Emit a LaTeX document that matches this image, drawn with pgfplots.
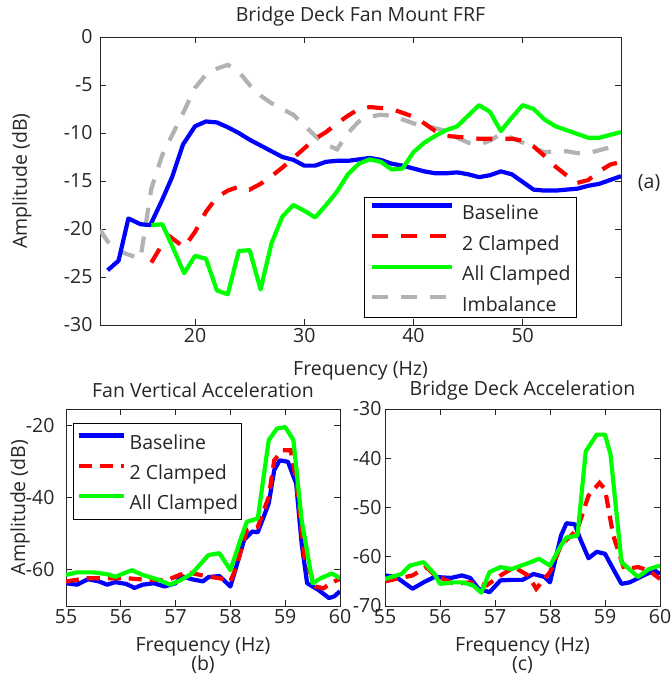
\documentclass[border=0pt]{standalone}
\usepackage{pgfplots}
\pgfplotsset{compat=1.18}
\usepackage{fontspec}
\setmainfont{Open Sans}
\definecolor{txt}{RGB}{38,38,38}
\definecolor{mblue}{RGB}{0,0,255}
\definecolor{mred}{RGB}{255,0,0}
\definecolor{mgreen}{RGB}{0,255,0}
\definecolor{mgrey}{RGB}{178,178,178}
\newcommand{\ff}{\fontsize{19.5}{23}\selectfont}
\pgfplotsset{
  myax/.style={
    scale only axis, anchor=south west,
    font=\ff, color=txt,
    axis line style={txt, line width=0.9pt},
    tick style={txt, line width=0.9pt},
    major tick length=6pt, tick align=inside,
    /pgf/number format/assume math mode=true,
    tick label style={font=\ff, color=txt},
    label style={font=\ff, color=txt},
    title style={font=\ff, color=txt},
    legend style={font=\ff, draw=black, line width=0.9pt, fill=white,
      nodes={inner sep=0pt, text height=14pt, text depth=0pt}},
    legend cell align=left,
    clip mode=individual,
  },
  sol/.style={line width=4.2pt, line join=round},
  dsh/.style={line width=4.2pt, dash pattern=on 16pt off 13pt},
  dshs/.style={line width=4.2pt, dash pattern=on 13pt off 8pt},
}
\begin{document}
\begin{tikzpicture}[x=1pt,y=1pt]
\useasboundingbox (0,0) rectangle (670,677);
% ---------------- (a)
\begin{axis}[myax, at={(100pt,352pt)}, width=521pt, height=288pt,
  xmin=11.3, xmax=59, ymin=-30, ymax=0,
  xtick={20,30,40,50}, ytick={-30,-25,-20,-15,-10,-5,0},
  yticklabel style={xshift=-4pt},
  title={Bridge Deck Fan Mount FRF},
  title style={at={(0.5,1.052)}, anchor=center},
  xlabel={Frequency (Hz)},
  xlabel style={at={(axis description cs:0.5,-0.159)}, anchor=center},
  ylabel={Amplitude (dB)},
  ylabel style={at={(axis description cs:-0.150,0.5)}, anchor=center},
  legend style={at={(0.9155,0.024)}, anchor=south east,
    inner xsep=6pt, inner ysep=6.25pt, row sep=14.5pt, column sep=8pt},
  legend image code/.code={\draw[#1] (0pt,7pt) -- (80pt,7pt);},
]
\addplot[mgrey, dsh, forget plot] coordinates {
(11.3,-20.1)(12,-21.3)(13,-22.3)(14,-22.7)(15,-23.1)(16,-15.8)(17,-12.3)(18,-10.0)(19,-7.7)(20,-5.3)(21,-3.9)(22,-3.3)(23,-2.9)(24,-3.6)(25,-5.0)(26,-6.1)(27,-6.9)(28,-7.5)(29,-8.1)(30,-9.2)(31,-10.3)(32,-11.2)(33,-11.7)(34,-10.0)(35,-8.8)(36,-8.3)(37,-8.1)(38,-8.2)(39,-8.6)(40,-9.0)(41,-9.2)(42,-9.5)(43,-9.8)(44,-10.5)(45,-11.0)(46,-11.2)(47,-10.8)(48,-10.1)(49,-10.5)(50,-11.0)(51,-11.6)(52,-12.0)(53,-11.9)(54,-11.9)(55,-12.1)(56,-12.1)(57,-11.8)(58,-11.5)(59,-11.2)};
\addplot[mblue, sol] coordinates {
(12,-24.3)(13,-23.3)(13.9,-18.9)(15,-19.5)(15.9,-19.6)(16.9,-17.2)(17.9,-14.6)(18.9,-11.2)(20,-9.3)(21,-8.8)(22,-8.9)(23,-9.4)(24,-10.0)(25,-10.7)(26,-11.3)(27,-11.9)(28,-12.5)(29,-12.8)(30,-13.4)(31,-13.4)(32,-13.0)(33,-12.9)(34,-12.9)(35,-12.75)(36,-12.6)(37,-12.8)(38,-13.2)(39,-13.4)(40,-13.7)(41,-14.0)(42,-14.2)(43,-14.2)(44,-14.1)(45,-14.3)(46,-14.6)(47,-14.4)(48,-14.0)(49,-14.3)(50,-15.1)(51,-15.9)(52,-16.0)(53,-16.0)(54,-15.9)(55,-15.8)(56,-15.5)(57,-15.3)(58,-14.9)(59,-14.5)};
\addlegendentry{Baseline}
\addplot[mred, dsh] coordinates {
(16,-23.5)(17,-21.6)(17.7,-20.8)(19,-21.9)(20,-20.3)(21,-18.2)(22,-16.7)(23,-16.0)(24,-15.6)(25,-15.9)(26,-15.3)(27,-14.5)(28,-13.6)(29,-12.6)(30,-11.6)(31,-10.6)(32,-9.9)(33,-9.0)(34,-8.2)(35,-7.5)(36,-7.3)(37,-7.4)(38,-7.5)(39,-7.9)(40,-8.3)(41,-9.0)(42,-9.8)(43,-10.3)(44,-10.4)(45,-10.5)(46,-10.6)(47,-10.6)(48,-10.6)(49,-10.6)(50,-10.8)(51,-11.4)(52,-12.4)(53,-13.5)(54,-14.4)(55,-15.2)(56,-14.9)(57,-14.0)(58,-13.3)(59,-13.0)};
\addlegendentry{2 Clamped}
\addplot[mgreen, sol] coordinates {
(16,-19.6)(17,-19.5)(18,-22.0)(19,-24.6)(20,-22.8)(21,-23.1)(22,-26.4)(23,-26.8)(24,-22.3)(25,-22.2)(26,-26.3)(27,-21.5)(28,-18.7)(29,-17.5)(30,-18.1)(31,-18.8)(32,-17.5)(33,-16.1)(34,-14.3)(35,-13.2)(36,-12.75)(37,-13.0)(38,-13.8)(39,-13.7)(40,-12.0)(41,-11.0)(42,-10.3)(43,-9.7)(44,-9.3)(45,-8.2)(46,-7.1)(47,-7.8)(48,-9.8)(49,-8.4)(50,-7.1)(51,-7.5)(52,-8.6)(53,-9.3)(54,-9.7)(55,-10.1)(56,-10.5)(57,-10.5)(58,-10.2)(59,-9.9)};
\addlegendentry{All Clamped}
\addlegendimage{mgrey, dsh}
\addlegendentry{Imbalance}
\node[font=\ff, color=txt] at (axis description cs:1.054,0.493) {(a)};
\end{axis}
% ---------------- (b)
\begin{axis}[myax, at={(66pt,71pt)}, width=274pt, height=197pt,
  xmin=55, xmax=60, ymin=-70, ymax=-15.5,
  xtick={55,56,57,58,59,60}, ytick={-60,-40,-20},
  yticklabel style={xshift=-8pt},
  title={Fan Vertical Acceleration},
  title style={at={(0.5,1.066)}, anchor=center},
  xlabel={Frequency (Hz)},
  xlabel style={at={(axis description cs:0.5,-0.208)}, anchor=center},
  ylabel={Amplitude (dB)},
  ylabel style={at={(axis description cs:-0.168,0.5)}, anchor=center},
  legend style={at={(0.0255,0.929)}, anchor=north west,
    inner xsep=3pt, inner ysep=10pt, row sep=14pt, column sep=4pt},
  legend image code/.code={\draw[#1] (0pt,7pt) -- (45pt,7pt);},
]
\addplot[mblue, sol] coordinates {
(55,-63.7)(55.2,-64.1)(55.4,-62.6)(55.6,-63.2)(55.75,-64.1)(55.9,-63.4)(56.1,-63.9)(56.25,-65.0)(56.4,-64.1)(56.6,-63.7)(56.8,-64.6)(57,-63.7)(57.1,-61.7)(57.3,-62.6)(57.5,-63.2)(57.6,-62.0)(57.8,-61.7)(58,-64.6)(58.1,-59.5)(58.25,-51.7)(58.4,-49.4)(58.5,-49.6)(58.7,-41.6)(58.8,-32.4)(58.9,-29.7)(59.05,-30.1)(59.2,-36.1)(59.3,-52.7)(59.4,-63.7)(59.6,-65.5)(59.8,-67.8)(59.9,-67.3)(60,-65.9)};
\addlegendentry{Baseline}
\addplot[mred, dshs] coordinates {
(55,-63.2)(55.4,-62.3)(55.75,-62.3)(56.1,-62.3)(56.5,-62.8)(56.85,-62.8)(57.2,-60.6)(57.6,-61.9)(57.8,-62.3)(58,-63.2)(58.1,-59.5)(58.3,-49.0)(58.5,-48.1)(58.7,-39.8)(58.8,-29.7)(58.95,-26.9)(59.1,-26.9)(59.2,-35.2)(59.35,-56.4)(59.55,-64.6)(59.7,-65.1)(59.85,-63.5)(60,-62.5)};
\addlegendentry{2 Clamped}
\addplot[mgreen, sol] coordinates {
(55,-61.4)(55.2,-60.7)(55.5,-60.7)(55.75,-61.2)(55.9,-61.9)(56.2,-60.1)(56.4,-61.4)(56.7,-62.8)(56.9,-64.1)(57.1,-62.8)(57.3,-61.0)(57.6,-55.9)(57.8,-55.4)(58,-60.1)(58.2,-50.9)(58.3,-46.7)(58.5,-45.8)(58.7,-24.1)(58.85,-20.9)(59,-20.5)(59.15,-24.1)(59.3,-46.2)(59.5,-63.7)(59.65,-62.3)(59.85,-61.0)(60,-62.3)};
\addlegendentry{All Clamped}
\node[font=\ff, color=txt] at (axis description cs:0.5,-0.30) {(b)};
\end{axis}
% ---------------- (c)
\begin{axis}[myax, at={(385pt,71pt)}, width=275pt, height=197pt,
  xmin=55, xmax=60, ymin=-70, ymax=-30,
  xtick={55,56,57,58,59,60}, ytick={-70,-60,-50,-40,-30},
  title={Bridge Deck Acceleration},
  title style={at={(0.5,1.066)}, anchor=center},
  xlabel={Frequency (Hz)},
  xlabel style={at={(axis description cs:0.5,-0.208)}, anchor=center},
]
\addplot[mblue, sol] coordinates {
(55,-63.8)(55.2,-64.1)(55.5,-66.5)(55.7,-65.2)(55.9,-64.1)(56.2,-64.3)(56.4,-63.8)(56.55,-64.3)(56.7,-66.5)(56.9,-67.2)(57.1,-64.8)(57.3,-64.7)(57.5,-64.7)(57.7,-63.5)(57.9,-64.1)(58,-65.2)(58.2,-55.7)(58.3,-53.2)(58.45,-53.4)(58.55,-56.4)(58.7,-60.3)(58.85,-59.0)(59,-59.4)(59.15,-62.5)(59.3,-65.5)(59.45,-65.2)(59.7,-63.8)(59.9,-62.8)(60,-63.5)};
\addplot[mred, dshs] coordinates {
(55,-65.0)(55.2,-64.5)(55.5,-63.8)(55.75,-62.1)(55.9,-63.7)(56.25,-65.5)(56.55,-65.2)(56.85,-65.8)(57.1,-63.8)(57.35,-62.1)(57.6,-63.8)(57.75,-66.5)(58,-63.1)(58.2,-57.7)(58.5,-54.4)(58.7,-47.6)(58.9,-45.0)(59,-46.3)(59.15,-55.7)(59.35,-62.5)(59.6,-62.1)(59.8,-62.8)(60,-64.5)};
\addplot[mgreen, sol] coordinates {
(55,-64.5)(55.3,-63.5)(55.45,-61.8)(55.7,-61.1)(55.9,-63.5)(56,-65.5)(56.25,-65.2)(56.4,-65.2)(56.6,-65.8)(56.75,-67.3)(56.9,-63.1)(57.1,-62.1)(57.3,-62.5)(57.4,-62.1)(57.65,-61.1)(57.8,-60.4)(58,-61.8)(58.2,-57.7)(58.3,-56.1)(58.5,-55.7)(58.65,-38.6)(58.85,-35.2)(59,-35.2)(59.1,-39.2)(59.3,-61.1)(59.6,-64.1)(59.8,-62.5)(60,-61.8)};
\node[font=\ff, color=txt] at (axis description cs:0.5,-0.30) {(c)};
\end{axis}
\end{tikzpicture}
\end{document}
